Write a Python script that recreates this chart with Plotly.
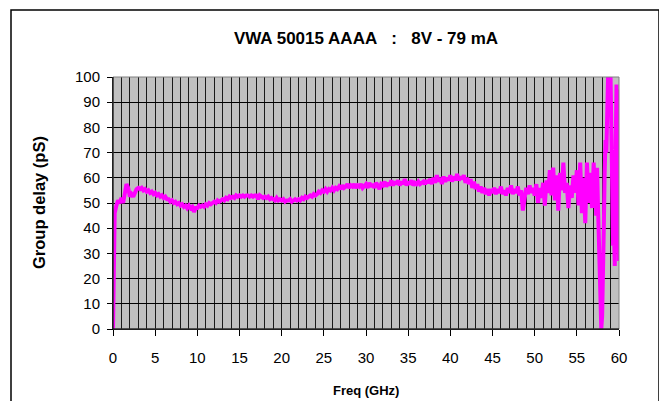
import plotly.graph_objects as go

# Frequency (GHz)
freq = [
    0.0, 0.1, 0.2, 0.4, 0.6, 0.8, 1.0, 1.2, 1.4, 1.6, 1.8, 2.0, 2.2, 2.4, 2.6, 2.8,
    3.0, 3.2, 3.4, 3.6, 3.8, 4.0, 4.2, 4.4, 4.6, 4.8,
    5.0, 5.2, 5.4, 5.6, 5.8, 6.0, 6.2, 6.4, 6.6, 6.8, 7.0, 7.2, 7.4, 7.6, 7.8,
    8.0, 8.2, 8.4, 8.6, 8.8, 9.0, 9.2, 9.4, 9.6, 9.8,
    10.0, 10.2, 10.4, 10.6, 10.8, 11.0, 11.2, 11.4, 11.6, 11.8, 12.0, 12.2, 12.4, 12.6, 12.8,
    13.0, 13.2, 13.4, 13.6, 13.8, 14.0, 14.2, 14.4, 14.6, 14.8,
    15.0, 15.2, 15.4, 15.6, 15.8, 16.0, 16.2, 16.4, 16.6, 16.8, 17.0, 17.2, 17.4, 17.6, 17.8,
    18.0, 18.2, 18.4, 18.6, 18.8, 19.0, 19.2, 19.4, 19.6, 19.8,
    20.0, 20.2, 20.4, 20.6, 20.8, 21.0, 21.2, 21.4, 21.6, 21.8, 22.0, 22.2, 22.4, 22.6, 22.8,
    23.0, 23.2, 23.4, 23.6, 23.8, 24.0, 24.2, 24.4, 24.6, 24.8,
    25.0, 25.2, 25.4, 25.6, 25.8, 26.0, 26.2, 26.4, 26.6, 26.8, 27.0, 27.2, 27.4, 27.6, 27.8,
    28.0, 28.2, 28.4, 28.6, 28.8, 29.0, 29.2, 29.4, 29.6, 29.8,
    30.0, 30.2, 30.4, 30.6, 30.8, 31.0, 31.2, 31.4, 31.6, 31.8, 32.0, 32.2, 32.4, 32.6, 32.8,
    33.0, 33.2, 33.4, 33.6, 33.8, 34.0, 34.2, 34.4, 34.6, 34.8,
    35.0, 35.2, 35.4, 35.6, 35.8, 36.0, 36.2, 36.4, 36.6, 36.8, 37.0, 37.2, 37.4, 37.6, 37.8,
    38.0, 38.2, 38.4, 38.6, 38.8, 39.0, 39.2, 39.4, 39.6, 39.8,
    40.0, 40.2, 40.4, 40.6, 40.8, 41.0, 41.2, 41.4, 41.6, 41.8, 42.0, 42.2, 42.4, 42.6, 42.8,
    43.0, 43.2, 43.4, 43.6, 43.8, 44.0, 44.2, 44.4, 44.6, 44.8,
    45.0, 45.2, 45.4, 45.6, 45.8, 46.0, 46.2, 46.4, 46.6, 46.8, 47.0, 47.2, 47.4, 47.6, 47.8,
    48.0, 48.2, 48.4, 48.6, 48.8, 49.0, 49.2, 49.4, 49.6, 49.8,
    50.0, 50.2, 50.4, 50.6, 50.8, 51.0, 51.2, 51.4, 51.6, 51.8, 52.0, 52.2, 52.4, 52.6, 52.8,
    53.0, 53.2, 53.4, 53.6, 53.8, 54.0, 54.2, 54.4, 54.6, 54.8,
    55.0, 55.2, 55.4, 55.6, 55.8, 56.0, 56.2, 56.4, 56.6, 56.8,
    57.0, 57.1, 57.2, 57.3, 57.4, 57.5, 57.6, 57.7, 57.8, 57.9,
    58.0, 58.1, 58.2, 58.3, 58.4, 58.5, 58.6, 58.7, 58.8, 58.9,
    59.0, 59.1, 59.2, 59.3, 59.4, 59.5, 59.6, 59.7, 59.8, 59.9, 60.0,
]

# Group delay (pS)
group_delay = [
    0, 38, 46, 49, 51, 50, 52, 50, 53, 57.5, 56, 52.5, 53.5, 52.5, 54, 55.5,
    56, 55.5, 56, 55, 55.5, 54.5, 55, 54, 54.5, 53.5,
    54, 53, 53.5, 52.5, 53, 52, 52.5, 51.5, 51.5, 50.5, 51, 50, 50.5, 49.5, 50,
    49, 49.5, 48.5, 49, 48, 49, 48, 48.5, 46.5, 48,
    48, 49, 48.5, 49, 48.5, 49.5, 49, 50, 49.5, 50, 50.5, 50, 51, 50.5, 51,
    51.5, 51, 52, 51.5, 52.5, 52, 52.5, 52, 53, 52.5,
    53, 52.5, 53, 52.5, 53, 53, 52.5, 53, 52.5, 53, 53, 51.5, 53, 52.5, 52,
    52.5, 52, 52.5, 51.5, 52, 51.5, 51, 52, 51, 51.5,
    51, 51.5, 50.5, 51, 51, 51.5, 50.5, 51, 51.5, 51, 51.5, 51, 52, 51.5, 52.5,
    52, 52.5, 53, 52.5, 53.5, 53, 53.5, 54.5, 54, 55,
    54.5, 55.5, 54.5, 55.5, 55, 56, 55, 56, 55.5, 56.5, 55.5, 57, 56, 56.5, 57.5,
    56, 57, 56.5, 57.5, 56, 57, 56.5, 57.5, 56, 57,
    57.5, 56, 58, 56.5, 57.5, 56, 58, 57, 55.5, 57.5, 57, 58.5, 56.5, 58, 57,
    59, 57, 58.5, 57.5, 59, 57, 58.5, 57.5, 59.5, 57,
    58.5, 57.5, 59, 57, 58, 57.5, 58.5, 57.5, 58, 58.5, 57.5, 59, 58, 59.5, 57.5,
    60, 58, 61, 58.5, 60, 57.5, 60.5, 58.5, 60, 59,
    61, 58.5, 60.5, 59, 61.5, 59, 60.5, 59.5, 61, 58, 60, 57.5, 59.5, 56, 58.5,
    55.5, 57.5, 54.5, 56.5, 54, 56, 53.5, 55.5, 53, 55.5,
    54, 56, 53.5, 55.5, 54, 56.5, 53.5, 55, 53, 56, 54, 57, 53.5, 55.5, 54,
    56.5, 53, 55, 47, 52, 56, 53.5, 57, 54, 56,
    53, 57.5, 50, 56, 52, 58, 49, 59, 54, 63, 53, 64, 51, 61, 47,
    62, 55, 66, 54, 58, 48, 57, 52, 61, 54,
    63, 49, 66, 46, 60, 42, 66, 50, 62, 48,
    66, 55, 62, 45, 64, 50, 38, 22, 15, 0,
    5, 18, 40, 62, 75, 70, 100, 100, 96, 100,
    100, 78, 45, 33, 40, 25, 70, 97, 55, 95, 27,
]

x_ticks = [0, 5, 10, 15, 20, 25, 30, 35, 40, 45, 50, 55, 60]
y_ticks = [0, 10, 20, 30, 40, 50, 60, 70, 80, 90, 100]

title_text = "VWA 50015 AAAA\u00a0\u00a0 :\u00a0\u00a0 8V - 79 mA"

fig = go.Figure()
fig.add_trace(go.Scatter(
    x=freq, y=group_delay, mode="lines",
    line=dict(color="#FF00FF", width=4),
    showlegend=False,
))

font_family = "Liberation Sans, Arial, sans-serif"

# The page body has an 8px margin; positions below compensate for it.
OFF = 8
fig.update_layout(
    width=667, height=401,
    margin=dict(l=113 - OFF, r=667 - (619 - OFF), t=77 - OFF, b=401 - (329 - OFF)),
    paper_bgcolor="white",
    plot_bgcolor="#C0C0C0",
    font=dict(family=font_family, color="black", size=14),
    title=dict(text="<b>" + title_text + "</b>", x=(366 - OFF) / 667, xanchor="center",
               y=1 - (38 - OFF) / 401, yanchor="middle", yref="container",
               font=dict(size=17, family=font_family, color="black")),
    xaxis=dict(
        range=[0, 60], tickvals=x_ticks, ticktext=[str(v) for v in x_ticks],
        showgrid=True, gridcolor="#1a1a1a", gridwidth=1,
        minor=dict(dtick=1, tick0=0, showgrid=True, gridcolor="#1a1a1a", gridwidth=1),
        ticks="outside", ticklen=6, tickcolor="black",
        showline=True, linecolor="black", linewidth=1,
        zeroline=False, tickfont=dict(size=15), ticklabelstandoff=9,
    ),
    yaxis=dict(
        range=[0, 100], tickvals=y_ticks,
        showgrid=True, gridcolor="black", gridwidth=1,
        ticks="outside", ticklen=5, tickcolor="black",
        showline=True, linecolor="black", linewidth=1,
        zeroline=False, tickfont=dict(size=15), ticklabelstandoff=4,
    ),
    shapes=[
        dict(type="rect", xref="paper", yref="paper", x0=0, x1=1, y0=0, y1=1,
             line=dict(color="#808080", width=1), layer="above"),
        dict(type="line", xref="paper", yref="paper", x0=0, x1=0, y0=0, y1=1,
             line=dict(color="black", width=1), layer="above"),
        dict(type="line", xref="paper", yref="paper", x0=0, x1=1, y0=0, y1=0,
             line=dict(color="black", width=1), layer="above"),
        dict(type="rect", xref="paper", yref="paper",
             x0=(11 - 113) / 506, x1=(659 - 113) / 506,
             y0=(329 - 420) / 252, y1=(329 - 10) / 252,
             line=dict(color="black", width=1.5), layer="below"),
    ],
    annotations=[
        dict(text="<b>Group delay (pS)</b>", xref="paper", yref="paper",
             x=(39 - 113) / 506, y=0.5, xanchor="center", yanchor="middle",
             textangle=-90, showarrow=False, font=dict(size=16.5)),
        dict(text="<b>Freq (GHz)</b>", xref="paper", yref="paper",
             x=0.5, y=(329 - 390) / 252, xanchor="center", yanchor="middle",
             showarrow=False, font=dict(size=13)),
    ],
)

fig.write_html("out.html")
